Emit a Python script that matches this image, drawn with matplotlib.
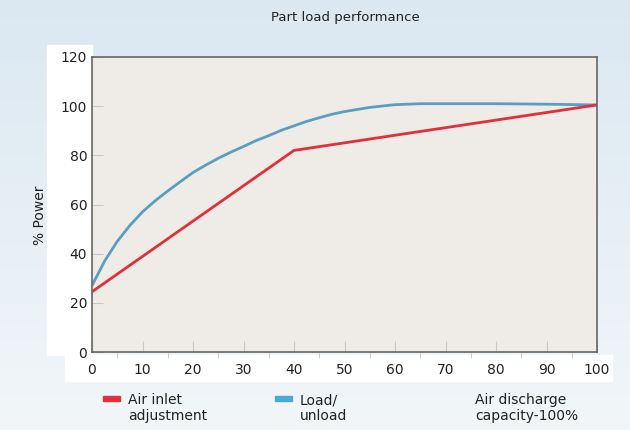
import matplotlib
matplotlib.use("Agg")
import matplotlib.pyplot as plt
import numpy as np
from matplotlib.patches import Rectangle
from matplotlib.colors import LinearSegmentedColormap

# Data
capacity = [0, 2.5, 5, 7.5, 10, 12.5, 15, 17.5, 20, 22.5, 25, 27.5, 30, 32.5, 35, 37.5,
            40, 42.5, 45, 47.5, 50, 55, 60, 65, 70, 80, 90, 100]
load_unload = [27, 37, 45, 51.5, 57, 61.5, 65.5, 69.3, 73, 76, 78.8, 81.3, 83.6, 86, 88, 90.2,
               92, 93.8, 95.3, 96.7, 97.8, 99.5, 100.6, 101, 101, 101, 100.8, 100.5]
inlet_x = [0, 40, 100]
inlet_y = [24.5, 82, 100.5]

xticks = [0, 10, 20, 30, 40, 50, 60, 70, 80, 90, 100]
yticks = [0, 20, 40, 60, 80, 100, 120]

W, H = 630, 430
fig = plt.figure(figsize=(6.3, 4.3), dpi=100)

# background gradient
bg = fig.add_axes([0, 0, 1, 1], zorder=-10)
grad = np.linspace(0, 1, 256).reshape(-1, 1)
cmap = LinearSegmentedColormap.from_list("bg", ["#dbe8f2", "#e6eff5", "#f2f6f9"])
bg.imshow(grad, aspect="auto", cmap=cmap, extent=[0, 1, 0, 1])
bg.set_axis_off()

# white bands behind tick labels
fig.patches.append(Rectangle((47 / W, 1 - 355 / H), 45 / W, 310 / H,
                             transform=fig.transFigure, color="white", zorder=-5))
fig.patches.append(Rectangle((65 / W, 1 - 381 / H), 547 / W, 26 / H,
                             transform=fig.transFigure, color="white", zorder=-5))

ax = fig.add_axes([92 / W, 1 - 352 / H, 505 / W, 295 / H])
ax.set_facecolor("#efece7")
ax.plot(capacity, load_unload, color="#5a9ec0", lw=2.0, solid_capstyle="round",
        solid_joinstyle="round")
ax.plot(inlet_x, inlet_y, color="#e0303c", lw=2.0, solid_capstyle="round")

ax.set_xlim(0, 100)
ax.set_ylim(0, 120)
ax.set_xticks(xticks)
ax.set_yticks(yticks)
ax.set_xticks(np.arange(0, 101, 5), minor=True)
ax.tick_params(axis="both", direction="in", length=8, color="#c8c8c8", labelsize=10,
               labelcolor="#222222")
ax.tick_params(axis="x", which="both", pad=8)
ax.tick_params(axis="x", which="minor", length=4, color="#c8c8c8")
for s in ax.spines.values():
    s.set_color("#666666")
    s.set_linewidth(1.2)

fig.text(345 / W, 1 - 17 / H, "Part load performance", ha="center", va="center",
         fontsize=9.5, color="#222222")
fig.text(40 / W, 1 - 215 / H, "% Power", rotation=90, ha="center", va="center",
         fontsize=10, color="#222222")

# legend
fig.patches.append(Rectangle((103 / W, 1 - 401 / H), 17 / W, 5 / H,
                             transform=fig.transFigure, color="#e0303c"))
fig.text(128 / W, 1 - 408 / H, "Air inlet\nadjustment", ha="left", va="center",
         fontsize=10, color="#222222", linespacing=1.1)
fig.patches.append(Rectangle((275 / W, 1 - 401 / H), 17 / W, 5 / H,
                             transform=fig.transFigure, color="#4aa8d4"))
fig.text(300 / W, 1 - 408 / H, "Load/\nunload", ha="left", va="center",
         fontsize=10, color="#222222", linespacing=1.1)
fig.text(475 / W, 1 - 408 / H, "Air discharge\ncapacity-100%", ha="left", va="center",
         fontsize=10, color="#222222", linespacing=1.1)

fig.savefig("out.png", dpi=100)
